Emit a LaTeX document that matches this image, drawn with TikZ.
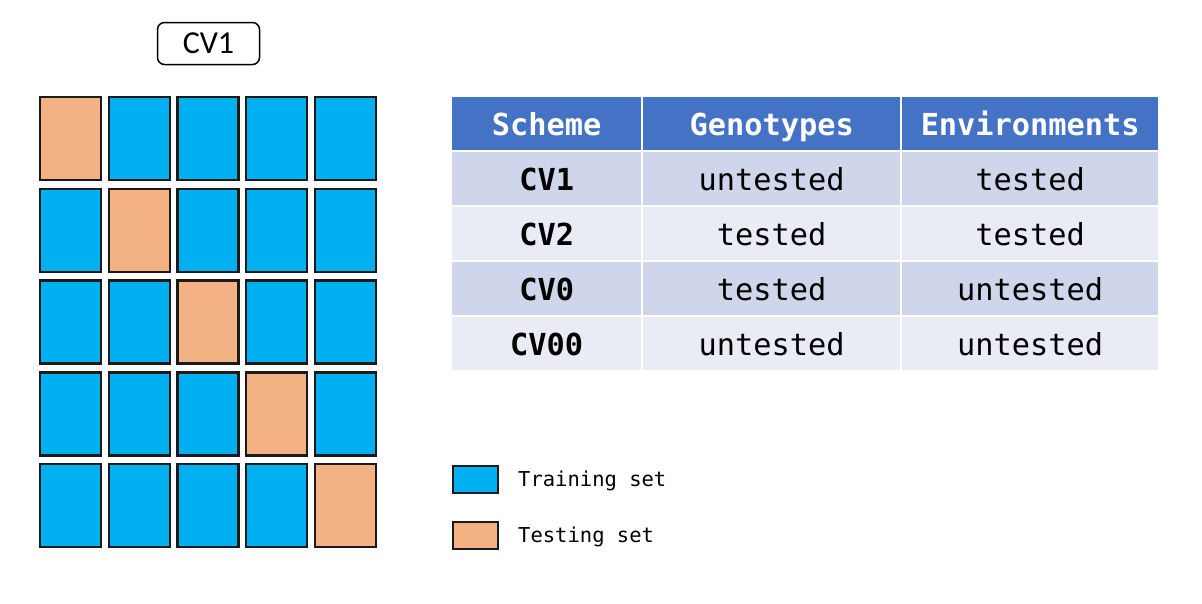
\documentclass[tikz,border=0pt]{standalone}
\usepackage{fontspec}
\setmainfont{Carlito}
\newfontfamily\monofont{DejaVu Sans Mono}
\definecolor{trainc}{HTML}{00B0F0}
\definecolor{testc}{HTML}{F4B183}
\definecolor{headc}{HTML}{4472C4}
\definecolor{rowa}{HTML}{CFD5EA}
\definecolor{rowb}{HTML}{E9EBF5}
\definecolor{edgec}{HTML}{1A1A1A}
\tikzset{
  cell/.style={draw=edgec, line width=2.4pt, minimum width=61pt, minimum height=83pt, inner sep=0pt},
  train/.style={cell, fill=trainc},
  test/.style={cell, fill=testc},
  tcell/.style={inner sep=0pt, anchor=north west, text height=23pt, text depth=0pt, font=\monofont\fontsize{30.3}{34}\selectfont},
  hcell/.style={tcell, fill=headc, text=white, font=\monofont\bfseries\fontsize{30.3}{34}\selectfont},
  legbox/.style={draw=edgec, line width=2pt, minimum width=45pt, minimum height=27pt, inner sep=0pt},
  legtext/.style={anchor=west, inner sep=0pt, font=\monofont\fontsize{20.5}{24}\selectfont},
}
\begin{document}
\begin{tikzpicture}[x=1pt,y=-1pt]
\useasboundingbox[fill=white] (0,0) rectangle (1202,603);
% title
\node[draw=black, line width=1.5pt, rounded corners=7pt, minimum width=102pt, minimum height=42pt, inner sep=0pt, font=\fontsize{32}{36}\selectfont] (title) at (208.5,43.5) {CV1};
% grid
\foreach \r in {1,...,5}{
  \foreach \c in {1,...,5}{
    \pgfmathsetmacro{\xx}{70.5+(\c-1)*68.7}
    \pgfmathsetmacro{\yy}{138.5+(\r-1)*91.8}
    \ifnum\r=\c
      \node[test] (c\r\c) at (\xx,\yy) {};
    \else
      \node[train] (c\r\c) at (\xx,\yy) {};
    \fi
  }
}
% table
\def\cola{452}\def\colb{643}\def\colc{902}
\def\wa{189}\def\wb{257}\def\wc{256}
\node[hcell, minimum width=\wa pt, minimum height=53pt] (h1) at (\cola,97) {Scheme};
\node[hcell, minimum width=\wb pt, minimum height=53pt] (h2) at (\colb,97) {Genotypes};
\node[hcell, minimum width=\wc pt, minimum height=53pt] (h3) at (\colc,97) {Environments};
\foreach \i/\s/\g/\e/\col in {1/CV1/untested/tested/rowa, 2/CV2/tested/tested/rowb, 3/CV0/tested/untested/rowa, 4/CV00/untested/untested/rowb}{
  \pgfmathsetmacro{\ty}{152+(\i-1)*55}
  \node[tcell, fill=\col, minimum width=\wa pt, minimum height=53pt, font=\monofont\bfseries\fontsize{30.3}{34}\selectfont] (s\i) at (\cola,\ty) {\s};
  \node[tcell, fill=\col, minimum width=\wb pt, minimum height=53pt] (g\i) at (\colb,\ty) {\g};
  \node[tcell, fill=\col, minimum width=\wc pt, minimum height=53pt] (e\i) at (\colc,\ty) {\e};
}
% legend
\node[legbox, fill=trainc] (lb1) at (475,479) {};
\node[legbox, fill=testc] (lb2) at (475,535) {};
\node[legtext] (lt1) at (518,481) {Training set};
\node[legtext] (lt2) at (518,537) {Testing set};
\end{tikzpicture}
\end{document}
